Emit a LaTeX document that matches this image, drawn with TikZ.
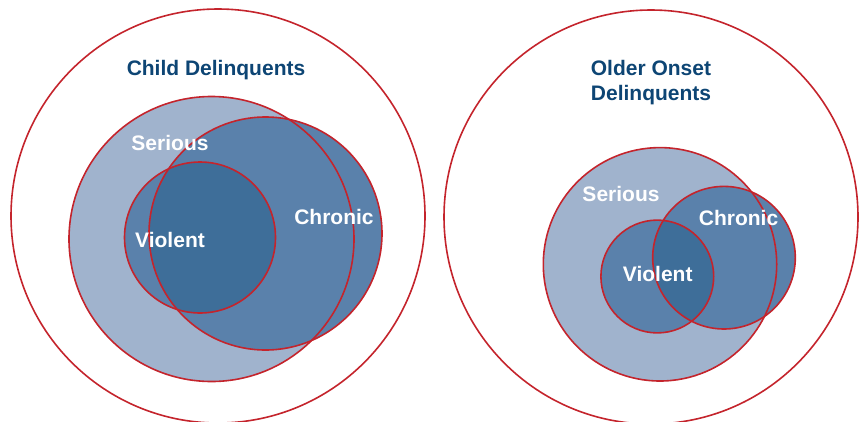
\documentclass[tikz,border=0pt]{standalone}
\usepackage{fontspec}
\setmainfont{Liberation Sans}

\definecolor{ringred}{HTML}{C4242C}
\definecolor{lightset}{HTML}{A0B3CD}
\definecolor{midset}{HTML}{5A81AB}
\definecolor{darkset}{HTML}{3E6E99}
\definecolor{titleblue}{HTML}{0D4574}

\tikzset{
  ring/.style={draw=ringred, line width=1.6pt},
  setlabel/.style={anchor=base, inner sep=0pt, text=white, font=\fontsize{21}{24}\selectfont\bfseries},
  grouplabel/.style={inner sep=0pt, text=titleblue, align=center, font=\fontsize{21}{24.5}\selectfont\bfseries}
}

\begin{document}
\begin{tikzpicture}[x=1pt,y=-1pt]
  \useasboundingbox (0,0) rectangle (859,421);
  \clip (0,0) rectangle (859,421);

  % left group: child delinquents
  \coordinate (outerL) at (218,216);
  \coordinate (seriousL) at (211.5,239);
  \coordinate (chronicL) at (265.5,233.5);
  \coordinate (violentL) at (200,237.5);

  \fill[lightset] (seriousL) circle (142.5);
  \fill[midset] (chronicL) circle (116.5);
  \fill[midset] (violentL) circle (75.5);
  \begin{scope}
    \clip (chronicL) circle (116.5);
    \fill[darkset] (violentL) circle (75.5);
  \end{scope}
  \draw[ring] (outerL) circle (207);
  \draw[ring] (seriousL) circle (142.5);
  \draw[ring] (chronicL) circle (116.5);
  \draw[ring] (violentL) circle (75.5);

  \node[grouplabel, anchor=base] (childtitle) at (216,75.5) {Child Delinquents};
  \node[setlabel] (seriousLlabel) at (170,150.5) {Serious};
  \node[setlabel] (chronicLlabel) at (334,224) {Chronic};
  \node[setlabel] (violentLlabel) at (170,247) {Violent};

  % right group: older onset delinquents
  \coordinate (outerR) at (651,217);
  \coordinate (seriousR) at (660,264.3);
  \coordinate (chronicR) at (724,257.7);
  \coordinate (violentR) at (657.3,276.5);

  \fill[lightset] (seriousR) circle (116.7);
  \fill[midset] (chronicR) circle (71.3);
  \fill[midset] (violentR) circle (56.4);
  \begin{scope}
    \clip (chronicR) circle (71.3);
    \fill[darkset] (violentR) circle (56.4);
  \end{scope}
  \draw[ring] (outerR) circle (207);
  \draw[ring] (seriousR) circle (116.7);
  \draw[ring] (chronicR) circle (71.3);
  \draw[ring] (violentR) circle (56.4);

  \node[grouplabel, anchor=north] (oldertitle) at (651,60.5) {Older Onset\\Delinquents};
  \node[setlabel] (seriousRlabel) at (621,201) {Serious};
  \node[setlabel] (chronicRlabel) at (738.5,225) {Chronic};
  \node[setlabel] (violentRlabel) at (657.7,281) {Violent};
\end{tikzpicture}
\end{document}
